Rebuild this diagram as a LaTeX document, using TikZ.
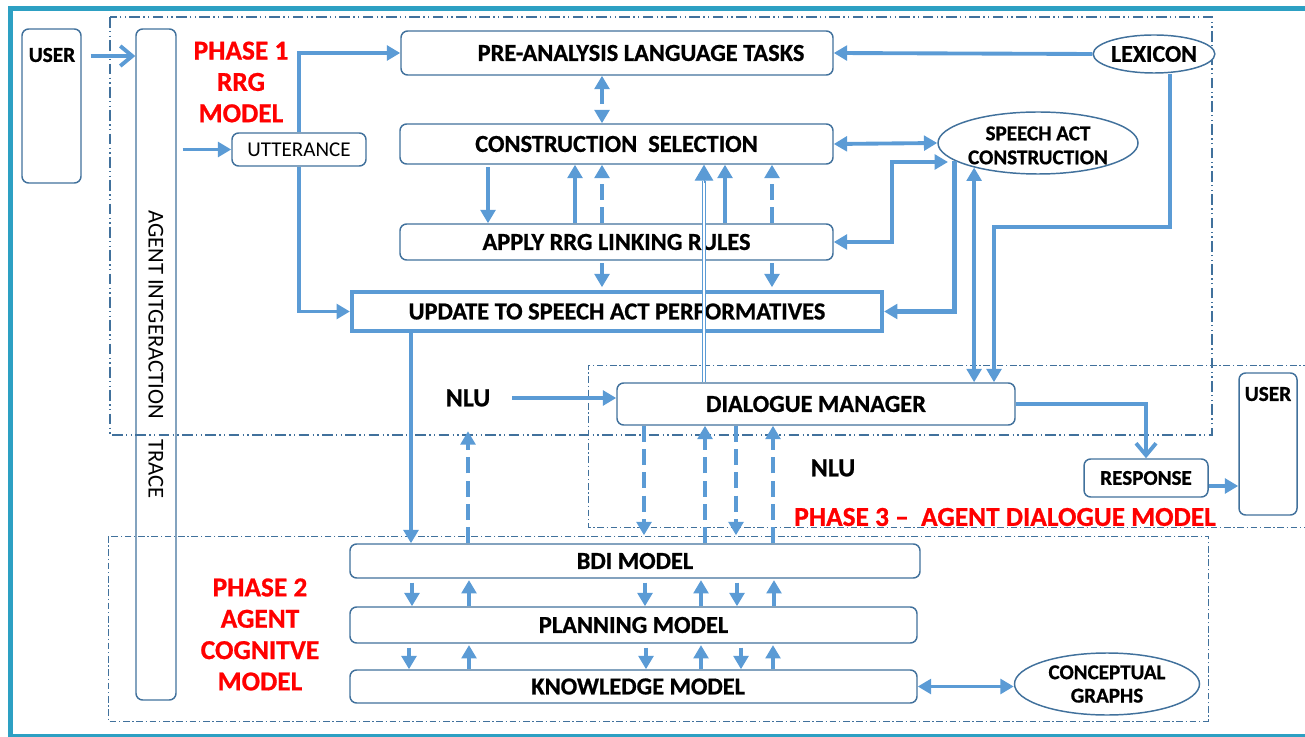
\documentclass[tikz,border=0pt]{standalone}
\usepackage{fontspec}
\setmainfont{Carlito}[BoldFeatures={FakeBold=0.8}]
\usetikzlibrary{arrows.meta,shapes.geometric,calc}
\definecolor{arrc}{RGB}{91,155,213}
\definecolor{boxc}{RGB}{65,113,156}
\definecolor{framec}{RGB}{45,160,195}
\definecolor{redc}{RGB}{255,0,0}
\tikzset{
  box/.style={draw=boxc,line width=1.1pt,rounded corners=5pt,fill=white,inner sep=0pt,
     font=\fontsize{18.3}{21}\selectfont\bfseries},
  sz/.style 2 args={minimum width=#1*0.75pt,minimum height=#2*0.75pt},
  ell/.style={ellipse,draw=boxc,line width=1.1pt,fill=white,inner sep=0pt,align=center},
  ln/.style={draw=arrc,line width=2.9pt},
  arr/.style={ln,-{Triangle[length=10pt,width=11pt]}},
  arrs/.style={ln,{Triangle[length=10pt,width=11pt]}-{Triangle[length=10pt,width=11pt]}},
  thk/.style={line width=3.5pt},
  dsh/.style={dash pattern=on 12pt off 5.5pt},
  barb/.style={ln,-{Straight Barb[length=9pt,width=15pt]}},
  redt/.style={text=redc,font=\fontsize{20.5}{23.5}\selectfont\bfseries,align=center},
  txt/.style={font=\fontsize{18.3}{21}\selectfont\bfseries},
  region/.style={draw=boxc,line width=0.6pt,dash pattern=on 5pt off 2pt on 1pt off 2pt},
}
\begin{document}
\begin{tikzpicture}[x=0.75pt,y=-0.75pt]
\useasboundingbox (0,0) rectangle (1305,737);
% outer frame
\draw[framec,line width=3.8pt] (1310,8.5) -- (10.5,8.5) -- (10.5,737) -- (1310,737);
% regions
\draw[region,line width=0.9pt,dash pattern=on 8pt off 2.5pt on 1pt off 2.5pt on 1pt off 2.5pt] (110,17) rectangle (1212,435);
\draw[region] (1310,365) -- (588,365) -- (588,527) -- (1310,527);
\draw[region] (108,536) rectangle (1208,721);

% nodes
\node[box,sz={59}{154}] (userL) at (51.5,106) {};
\node[txt,font=\fontsize{16}{19}\selectfont\bfseries] (userLt) at (52,55) {USER};
\node[box,sz={671}{40},rotate=-90,fill=none,font=\fontsize{17}{20}\selectfont] (bar) at (156,364.5) {AGENT INTGERACTION\hspace{0.9em}TRACE\hspace*{15pt}};
\node[redt] (ph1) at (241,82) {PHASE 1\\RRG\\MODEL};
\node[redt] (ph2) at (260,634.5) {PHASE 2\\AGENT\\COGNITVE\\MODEL};
\node[redt] (ph3) at (1005,517) {PHASE 3 –\ \ AGENT DIALOGUE MODEL};
\node[box,sz={134}{33},font=\fontsize{15.8}{18}\selectfont] (utt) at (299,149.5) {UTTERANCE};
\node[box,sz={432}{44}] (pre) at (617,53) {\hspace*{36pt}PRE-ANALYSIS LANGUAGE TASKS};
\node[box,sz={433}{40}] (cs) at (616.5,144) {CONSTRUCTION\ \ SELECTION};
\node[box,sz={433}{36}] (apply) at (616.5,242) {APPLY RRG LINKING RULES};
\node[box,sz={530}{39},rounded corners=0pt,draw=arrc,line width=3.1pt] (upd) at (617,311.5) {UPDATE TO SPEECH ACT PERFORMATIVES};
\node[ell,sz={118}{38},font=\fontsize{18}{21}\selectfont\bfseries] (lex) at (1154,54) {LEXICON};
\node[ell,sz={200}{62},font=\fontsize{15.8}{18}\selectfont\bfseries] (sac) at (1038,143) {\rule{0pt}{14pt}SPEECH ACT\\CONSTRUCTION};
\node[box,sz={398}{42}] (dm) at (816,404) {DIALOGUE MANAGER};
\node[txt,font=\fontsize{19.5}{22}\selectfont\bfseries] (nlu1) at (468,398) {NLU};
\node[txt,font=\fontsize{19.5}{22}\selectfont\bfseries] (nlu2) at (833,468) {NLU};
\node[box,sz={58}{142}] (userR) at (1268,444) {};
\node[txt,font=\fontsize{16}{19}\selectfont\bfseries] (userRt) at (1268,394) {USER};
\node[box,sz={124}{38},font=\fontsize{15.8}{18}\selectfont\bfseries] (resp) at (1146,478) {RESPONSE};
\node[box,sz={570}{34}] (bdi) at (635,561) {BDI MODEL};
\node[box,sz={567}{36}] (plan) at (633.5,625) {PLANNING MODEL};
\node[box,sz={567}{33}] (know) at (633.5,686.5) {\hspace*{7pt}KNOWLEDGE MODEL};
\node[ell,sz={185}{62},font=\fontsize{15.8}{17.5}\selectfont\bfseries] (cg) at (1107,684) {CONCEPTUAL\\GRAPHS};

% connectors
\draw[barb,shorten <=6.75pt] (userL.east |- 0,56) -- (bar.south |- 0,56);
\draw[arr,shorten <=4.5pt] (bar.north |- utt.west) -- (utt.west);
\draw[arr] (utt.north) -- (utt.north |- pre.west) -- (pre.west);
\draw[arr] (utt.south) -- (utt.south |- upd.west) -- (upd.west);
\draw[arrs,dsh] (pre.south -| 602,0) -- (cs.north -| 602,0);
\draw[arr] (lex.west) -- (pre.east);
\draw[arrs] (cs.east) -- (sac.west);
\draw[arr,thk] (lex.south -| 1170,0) -- (1170,227) -- (994,227) -- (dm.north -| 994,0);
\draw[arr,thk] (sac.192) -- (sac.192 |- upd.east) -- (upd.east);
\draw[arrs,thk] (apply.east) -- (892,242) -- (892,162) -- (948,162);
\draw[arrs,thk] (sac.201) -- (sac.201 |- dm.north);
% construction selection <-> apply
\draw[arr,shorten <=2pt] (cs.south -| 488,0) -- (apply.north -| 488,0);
\draw[arr] (apply.north -| 575,0) -- (cs.south -| 575,0);
\draw[arr,dsh] (apply.north -| 602,0) -- (cs.south -| 602,0);
\draw[arr] (apply.north -| 725,0) -- (cs.south -| 725,0);
\draw[arr,dsh] (apply.north -| 772,0) -- (cs.south -| 772,0);
\draw[arr,shorten <=2pt,shorten >=2pt] (apply.south -| 602,0) -- (upd.north -| 602,0);
\draw[arr,shorten <=2pt,shorten >=2pt] (apply.south -| 772,0) -- (upd.north -| 772,0);
% double line from dialogue manager
\draw[draw=arrc,line width=0.75pt,double=white,double distance=1.6pt,shorten >=12pt] (dm.north -| 704,0) -- (cs.south -| 704,0);
\draw[arrc,line width=0.75pt,-{Triangle[length=12pt,width=14pt]}] ($(cs.south -| 704,0)+(0,18)$) -- (cs.south -| 704,0);
% update -> bdi, nlu
\draw[arr] (upd.south -| 411,0) -- (bdi.north -| 411,0);
\draw[arr,dsh,shorten >=15pt] (bdi.north -| nlu1) -- (nlu1.south);
\draw[arr,shorten <=13pt] (nlu1.east) -- (nlu1.east -| dm.west);
% dm <-> bdi
\draw[arr,dsh,shorten >=6pt] (dm.south -| 644,0) -- (bdi.north -| 644,0);
\draw[arr,dsh] (bdi.north -| 705,0) -- (dm.south -| 705,0);
\draw[arr,dsh,shorten >=6pt] (dm.south -| 736,0) -- (bdi.north -| 736,0);
\draw[arr,dsh] (bdi.north -| 773,0) -- (dm.south -| 773,0);
% bdi <-> planning <-> knowledge
\foreach \x in {412,645,737} \draw[arr,shorten <=3pt] (bdi.south -| \x,0) -- (plan.north -| \x,0);
\foreach \x in {469,701,774} \draw[arr,shorten >=1pt] (plan.north -| \x,0) -- (bdi.south -| \x,0);
\foreach \x in {409,646,741} \draw[arr,shorten <=3pt] (plan.south -| \x,0) -- (know.north -| \x,0);
\foreach \x in {469,701,773} \draw[arr,shorten >=1pt] (know.north -| \x,0) -- (plan.south -| \x,0);
\draw[arrs] (know.east) -- (know.east -| cg.west);
% dialogue manager -> response -> user
\draw[barb] (dm.east) -- (dm.east -| resp.north) -- (resp.north);
\draw[arr] (resp.east |- 0,486) -- (userR.west |- 0,486);
\end{tikzpicture}
\end{document}
